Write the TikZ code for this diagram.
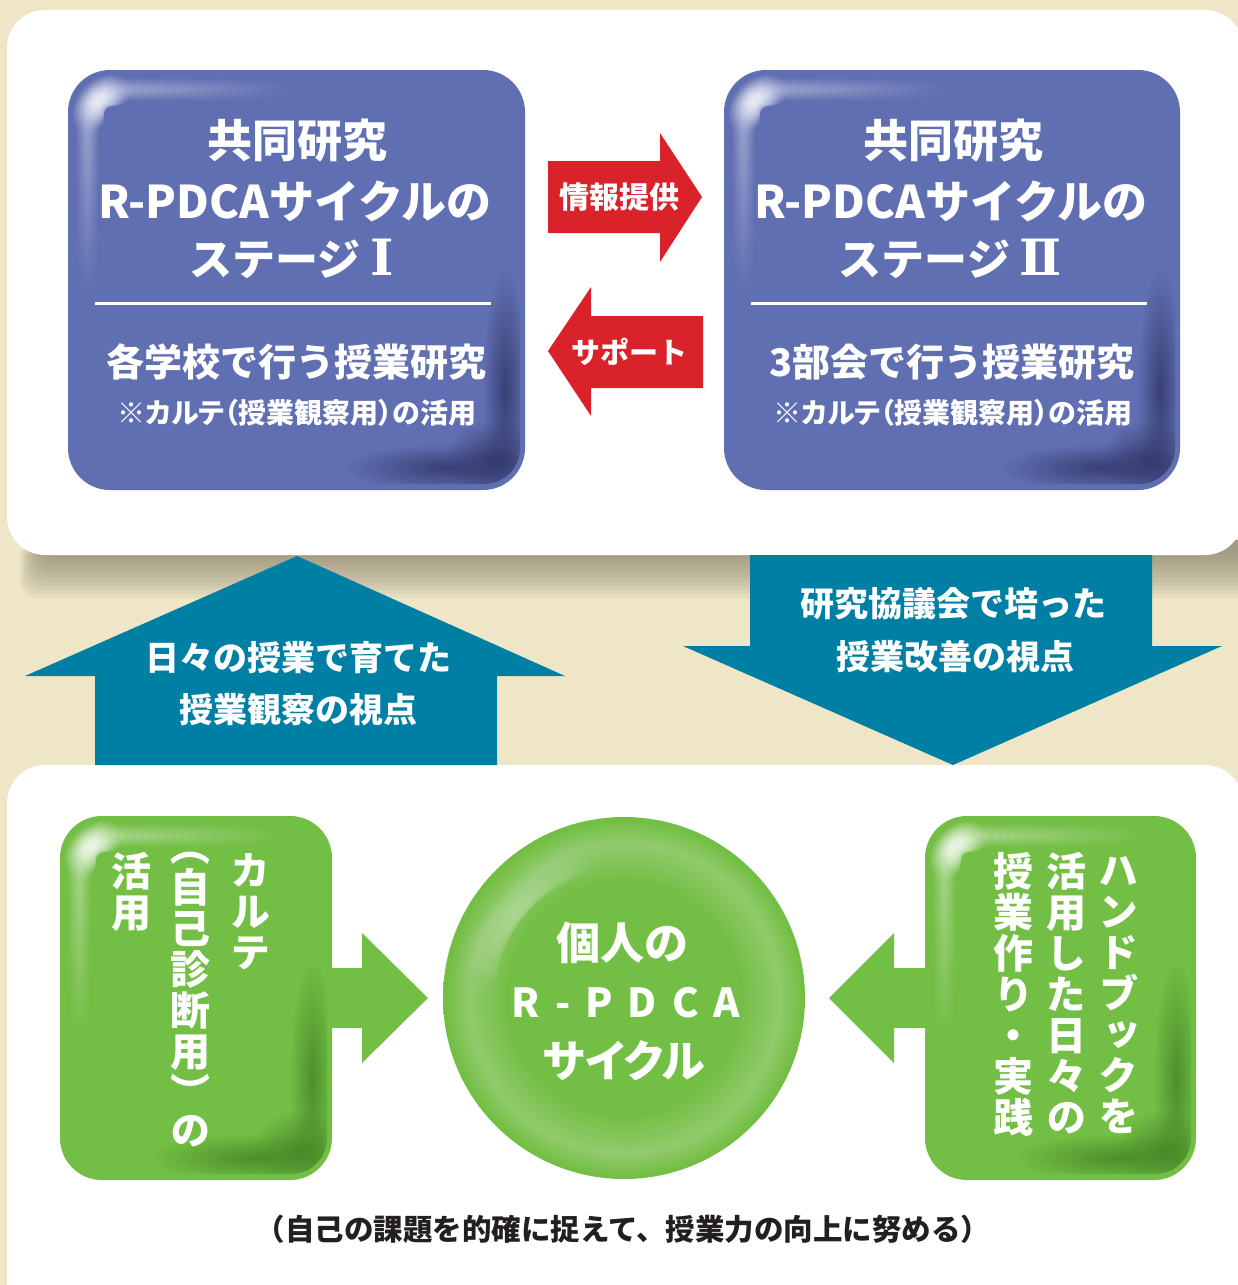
\documentclass[tikz,border=0pt]{standalone}
\usepackage{fontspec}
\setmainfont{Noto Sans CJK JP}
\newfontfamily\jpv{Noto Sans CJK JP}[RawFeature=+vert]
\newfontfamily\romnum{DejaVu Serif}
\usetikzlibrary{fadings}
\definecolor{cream}{RGB}{238,230,198}
\definecolor{shadowc}{RGB}{120,114,95}
\definecolor{bluebox}{RGB}{96,110,178}
\definecolor{bluedark}{RGB}{50,56,105}
\definecolor{redarr}{RGB}{217,34,42}
\definecolor{tealarr}{RGB}{0,127,165}
\definecolor{greenbox}{RGB}{115,190,68}
\definecolor{greendark}{RGB}{70,135,40}
\definecolor{greenlight}{RGB}{145,203,108}
\definecolor{textdark}{RGB}{35,31,32}
\tikzfading[name=glow, inner color=transparent!0, outer color=transparent!100]
\pgfdeclareradialshading{ballgreen}{\pgfpoint{0bp}{0bp}}{color(0bp)=(greenbox); color(16bp)=(greenbox); color(21.5bp)=(greenlight); color(24.6bp)=(greenbox); color(25bp)=(greenbox); color(50bp)=(greenbox)}
\newcommand\boxfx[5]{%
  \begin{scope}
    \clip[rounded corners=36] (#1+5,#2+5) rectangle (#3-5,#4-6);
    \fill[#5, path fading=glow, fill opacity=0.85] (#3-80,#4-22) ellipse (100 and 24);
    \fill[#5, path fading=glow, fill opacity=0.85] (#3-20,#4-100) ellipse (22 and 120);
    \fill[#5, path fading=glow, fill opacity=0.9] (#3-32,#4-30) ellipse (48 and 40);
    \foreach \a in {180,190,...,270}
      {\fill[white, path fading=glow, fill opacity=0.35] (#1+46,#2+46) ++(\a:27) circle (17);}
    \foreach \d in {8,16,...,168}
      {\pgfmathsetmacro\op{0.25*(1-\d/180)}
       \fill[white, path fading=glow, fill opacity=\op] (#1+19,#2+46+\d) circle (13);
       \fill[white, path fading=glow, fill opacity=\op] (#1+46+\d,#2+19) circle (13);}
  \end{scope}}
\tikzset{
  ttl/.style={text=white, inner sep=0pt, font=\bfseries\fontsize{45}{50}\selectfont},
  sub/.style={text=white, inner sep=0pt, font=\bfseries\fontsize{38}{40}\selectfont},
  note/.style={text=white, inner sep=0pt, font=\bfseries\fontsize{28}{30}\selectfont\addfontfeature{RawFeature=+palt}},
  redtxt/.style={text=white, inner sep=0pt, font=\bfseries\fontsize{30}{32}\selectfont},
  tealtxt/.style={text=white, inner sep=0pt, font=\bfseries\fontsize{34}{36}\selectfont},
  circtxt/.style={text=white, inner sep=0pt, font=\bfseries\fontsize{44}{48}\selectfont},
  vcol/.style={text=white, inner sep=0pt, anchor=north, align=center, font=\jpv\bfseries\fontsize{40}{41}\selectfont},
  foot/.style={text=textdark, inner sep=0pt, font=\bfseries\fontsize{29.5}{32}\selectfont},
}
\begin{document}
\begin{tikzpicture}[x=1pt,y=-1pt]
\useasboundingbox (0,0) rectangle (1238,1285);
\fill[cream] (0,0) rectangle (1238,1285);
% shadow under top panel (stacked soft bands)
\foreach \k in {1,...,12}
  {\fill[shadowc, opacity=0.075, rounded corners=18] (44-\k*2,540) rectangle (1260,550+\k*4);}
% panels
\fill[white, rounded corners=38] (7,10) rectangle (1243,555);
\fill[white, rounded corners=38] (7,765) rectangle (1243,1330);
% blue boxes
\fill[bluebox, rounded corners=42] (68,70) rectangle (525,490);
\boxfx{68}{70}{525}{490}{bluedark}
\fill[bluebox, rounded corners=42] (724,70) rectangle (1180,490);
\boxfx{724}{70}{1180}{490}{bluedark}
% texts stage I
\node[ttl] (a1) at (297,141) {共同研究};
\node[ttl] (a2) at (295,201) {R-PDCAサイクルの};
\node[ttl, font=\bfseries\fontsize{43}{50}\selectfont] (a3) at (292,259) {ステージ\hspace{10pt}{\romnum\bfseries\fontsize{50}{50}\selectfont Ⅰ}};
\draw[white, line width=3] (95,303) -- (491,303);
\node[sub] (a4) at (296,362) {各学校で行う授業研究};
\node[note] (a5) at (297,413) {※カルテ（授業観察用）の活用};
% texts stage II
\node[ttl] (b1) at (953,141) {共同研究};
\node[ttl] (b2) at (951,201) {R-PDCAサイクルの};
\node[ttl, font=\bfseries\fontsize{43}{50}\selectfont] (b3) at (950,259) {ステージ\hspace{9pt}{\romnum\bfseries\fontsize{50}{50}\selectfont Ⅱ}};
\draw[white, line width=3] (751,303) -- (1147,303);
\node[sub] (b4) at (952,362) {3部会で行う授業研究};
\node[note] (b5) at (953,413) {※カルテ（授業観察用）の活用};
% red arrows
\fill[redarr] (548,161) -- (660,161) -- (660,133) -- (702,197) -- (660,262) -- (660,233) -- (548,233) -- cycle;
\node[redtxt] (r1) at (619,197) {情報提供};
\fill[redarr] (703,316) -- (591,316) -- (591,287) -- (548,351) -- (591,416) -- (591,388) -- (703,388) -- cycle;
\node[redtxt, font=\bfseries\fontsize{29}{31}\selectfont] (r2) at (629,352) {サポート};
% teal arrows
\fill[tealarr] (297,556) -- (565,676) -- (497,676) -- (497,765) -- (95,765) -- (95,676) -- (25,676) -- cycle;
\node[tealtxt] (u1) at (298,658) {日々の授業で育てた};
\node[tealtxt] (u2) at (298,710) {授業観察の視点};
\fill[tealarr] (750,555) -- (1152,555) -- (1152,646) -- (1222,646) -- (953,765) -- (683,646) -- (750,646) -- cycle;
\node[tealtxt] (d1) at (953,604) {研究協議会で培った};
\node[tealtxt] (d2) at (955,657) {授業改善の視点};
% green boxes
\fill[greenbox, rounded corners=42] (60,816) rectangle (332,1180);
\boxfx{60}{816}{332}{1180}{greendark}
\fill[greenbox, rounded corners=42] (925,816) rectangle (1196,1180);
\boxfx{925}{816}{1196}{1180}{greendark}
% green arrows
\fill[greenbox] (332,968) -- (362,968) -- (362,933) -- (428,998) -- (362,1063) -- (362,1028) -- (332,1028) -- cycle;
\fill[greenbox] (925,968) -- (894,968) -- (894,933) -- (829,998) -- (894,1063) -- (894,1028) -- (925,1028) -- cycle;
% circle
\shade[shading=ballgreen] (624,998) circle (181);
\foreach \a in {182,184,...,258}
  {\pgfmathsetmacro\op{0.16*(1-abs(\a-220)/40)}
   \fill[white, path fading=glow, fill opacity=\op] (624,998) ++(\a:155) circle (26);}
\node[circtxt] (c1) at (622,943) {個人の};
\node[circtxt, font=\bfseries\fontsize{40}{46}\selectfont] (c2) at (626,1003) {R\hspace{15pt}-\hspace{15pt}P\hspace{15pt}D\hspace{15pt}C\hspace{15pt}A};
\node[circtxt] (c3) at (624,1061) {\addfontfeature{RawFeature=+palt}サイクル};
% vertical texts
\node[vcol] (l1) at (250,853) {カ\\ル\\テ};
\node[vcol] (l2) at (190,852) {（\\自\\己\\診\\断\\用\\）};
\node[vcol] (l2b) at (190,1115) {の};
\node[vcol] (l3) at (131,852) {活\\用};
\node[vcol] (g1) at (1118,856) {ハ\\ン\\ド\\ブ\\ッ\\ク\\を};
\node[vcol] (g2) at (1066,852) {活\\用\\し\\た\\日\\々\\の};
\node[vcol] (g3) at (1013,852) {授\\業\\作\\り\\・\\実\\践};
% footer
\node[foot] (f) at (623,1229) {（自己の課題を的確に捉えて、授業力の向上に努める）};
\end{tikzpicture}
\end{document}
